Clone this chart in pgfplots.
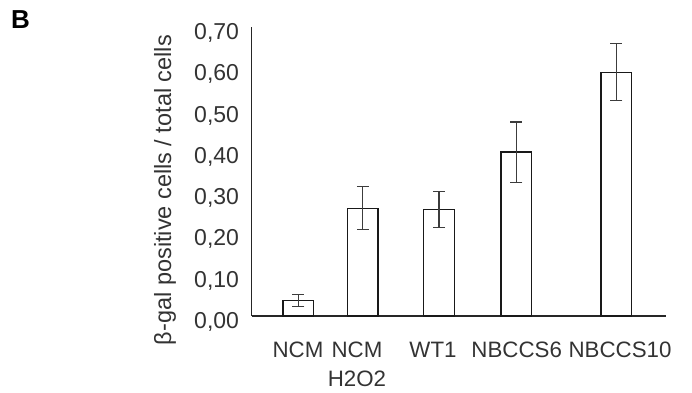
\documentclass[border=0pt]{standalone}
\usepackage{fontspec}
\setmainfont{Liberation Sans}
\usepackage{pgfplots}
\usepackage{pgfplotstable}
\pgfplotsset{compat=1.18}
\definecolor{txt}{HTML}{333333}
\definecolor{errc}{HTML}{3C3C3C}
\pgfplotstableread{
x y e
298.3 0.037 0.015
362.8 0.261 0.052
439.0 0.258 0.044
516.3 0.397 0.073
616.3 0.590 0.069
}\datatab
\begin{document}
\begin{tikzpicture}
\path[use as bounding box] (0,0) rectangle (692pt,392pt);
\node[font=\fontsize{26}{30}\selectfont\bfseries, text=black] at (20.5pt,372pt) {B};
\begin{axis}[
  at={(251.7pt,76pt)}, anchor=south west,
  scale only axis, width=414.3pt, height=289pt,
  xmin=251.7, xmax=666, ymin=0, ymax=0.7,
  axis lines=left,
  axis line style={line width=1.3pt, -, black!85},
  major tick length=0pt,
  ytick={0,0.1,0.2,0.3,0.4,0.5,0.6,0.7},
  yticklabel style={/pgf/number format/.cd, fixed, fixed zerofill, precision=2, use comma, assume math mode=true, /tikz/.cd,
    font=\fontsize{23}{27}\selectfont, text=txt, anchor=east, inner sep=0pt, xshift=-12.5pt, yshift=-6pt},
  xtick={298,357,433,516.7,620},
  xticklabels={NCM,{NCM\\H2O2},WT1,NBCCS6,NBCCS10},
  xticklabel style={font=\fontsize{22.3}{28.3}\selectfont, text=txt, align=center, anchor=north, inner sep=0pt, yshift=-26pt},
  ylabel={β-gal positive cells / total cells},
  ylabel style={at={(axis description cs:-0.209,0.436)}, anchor=center, rotate=0, font=\fontsize{23.5}{27}\selectfont, text=txt, inner sep=0pt},
  clip=false,
]
\addplot[ybar, bar width=30.5, fill=white, draw=black!90, line width=1.4pt,
  error bars/.cd, y dir=both, y explicit,
  error mark options={rotate=90, mark size=6pt, line width=1.1pt, errc},
  error bar style={line width=1.1pt, errc}]
  table[x=x, y=y, y error=e] {\datatab};
\end{axis}
\end{tikzpicture}
\end{document}
